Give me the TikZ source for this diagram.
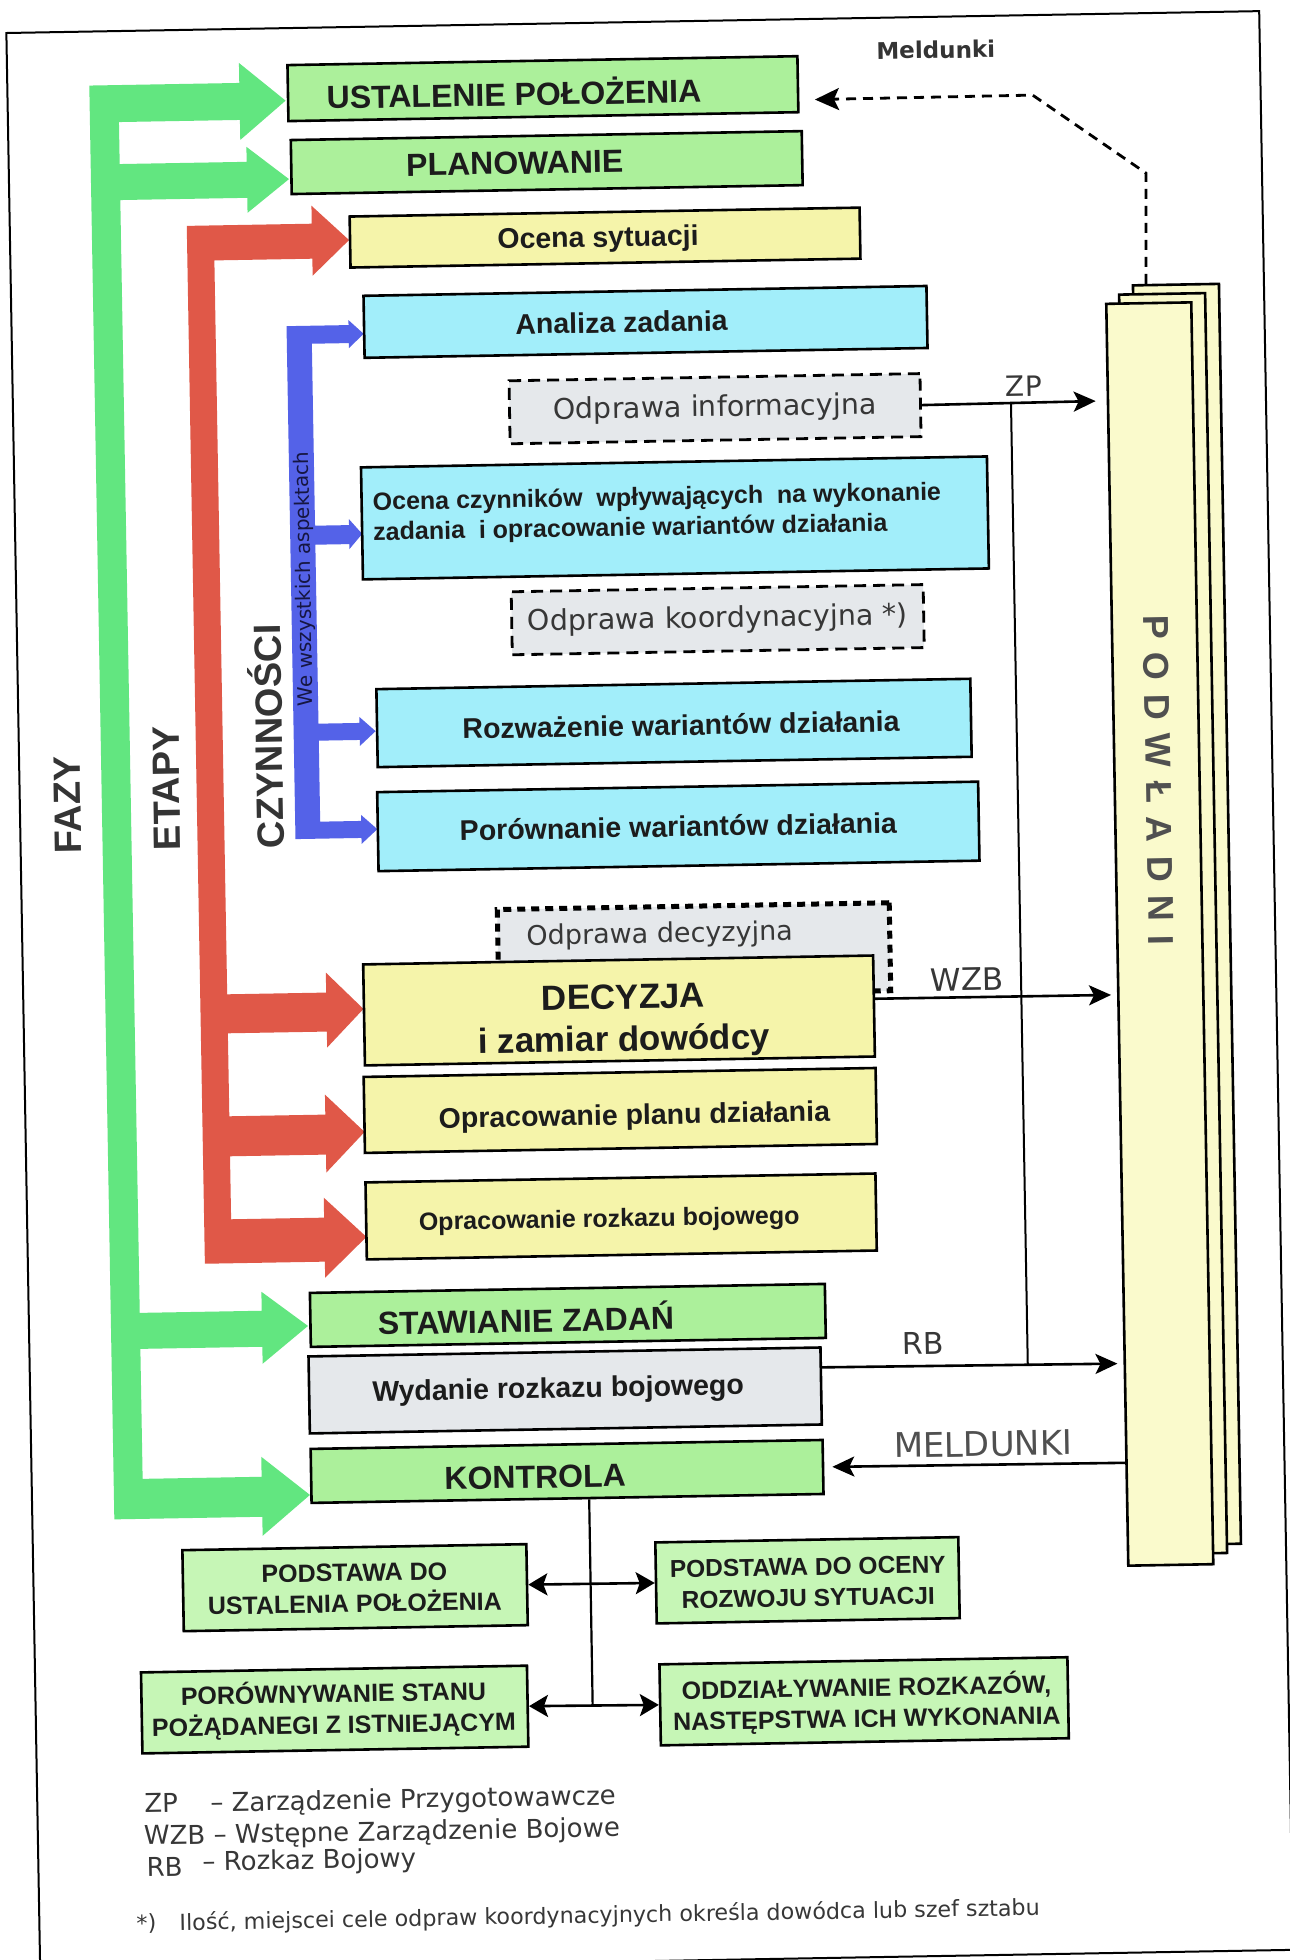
\documentclass[tikz,border=0pt]{standalone}
\usepackage{fontspec}
\setmainfont{Liberation Sans}
\newfontfamily\dejavu{DejaVu Sans}
\usetikzlibrary{arrows.meta,calc}

\definecolor{ink}{RGB}{28,28,28}
\definecolor{labgrey}{RGB}{52,52,52}
\definecolor{podgrey}{RGB}{80,80,80}
\definecolor{softink}{RGB}{55,55,55}
\definecolor{boxgreen}{RGB}{172,240,155}
\definecolor{boxgreenlt}{RGB}{198,246,182}
\definecolor{boxyellow}{RGB}{245,244,170}
\definecolor{boxcyan}{RGB}{162,238,250}
\definecolor{boxgrey}{RGB}{229,232,235}
\definecolor{pagefill}{RGB}{250,250,204}
\definecolor{arrgreen}{RGB}{98,230,128}
\definecolor{arrred}{RGB}{224,88,72}
\definecolor{arrblue}{RGB}{84,98,232}
\definecolor{aspink}{RGB}{22,22,66}

\newcommand{\setfsz}[2]{\fontsize{#1}{#2}\selectfont}

\tikzset{
  frameline/.style={line width=2pt, draw=black},
  sz/.style 2 args={minimum width=#1pt, minimum height=#2pt},
  panel/.style={draw=black, line width=2.6pt, rectangle, inner sep=0pt},
  gpanel/.style={panel, fill=boxgreen},
  glpanel/.style={panel, fill=boxgreenlt},
  ypanel/.style={panel, fill=boxyellow},
  cpanel/.style={panel, fill=boxcyan},
  spanel/.style={panel, fill=boxgrey},
  briefing/.style={panel, fill=boxgrey, line width=2.8pt, dash pattern=on 12pt off 7pt},
  dotbriefing/.style={panel, fill=boxgrey, line width=5pt, dash pattern=on 8pt off 6pt},
  sheet/.style={panel, fill=pagefill, minimum width=86pt, minimum height=1260pt},
  btext/.style={inner sep=0pt, text=ink, font=\bfseries\setfsz{#1}{#1}},
  rtext/.style={inner sep=0pt, text=softink, font=\dejavu\setfsz{#1}{#1}},
  sidelabel/.style={rotate=90, inner sep=0pt, text=labgrey, font=\bfseries\setfsz{38}{38}},
  conn/.style={line width=2.6pt, draw=black, -{Stealth[length=22pt, width=20pt, inset=5pt]}},
  bus/.style={line width=2pt, draw=black},
  twoway/.style={line width=2.6pt, draw=black,
    {Stealth[length=19pt, width=22pt, inset=4pt]}-{Stealth[length=19pt, width=22pt, inset=4pt]}},
  report/.style={line width=2.8pt, draw=black, dash pattern=on 10pt off 7pt,
    -{Stealth[length=24pt, width=22pt, inset=5pt]}},
}

\begin{document}
\begin{tikzpicture}[x=1pt,y=-1pt]
\useasboundingbox (0,0) rectangle (1290,1960);
\fill[white] (0,0) rectangle (1290,1960);
\begin{scope}[rotate around={1:(645,980)}, transform shape]

% outer frame
\draw[frameline] (23,22) -- (1276,22) -- (1276,1961) -- (23,1961) -- cycle;

% phases (green comb)
\fill[arrgreen] (105,76) -- (255,76) -- (255,56) -- (301,94.5) -- (255,133) -- (255,113)
  -- (134,113) -- (134,155) -- (261,155) -- (261,140) -- (303,173) -- (261,206) -- (261,191)
  -- (134,191) -- (134,1304) -- (256,1304) -- (256,1285) -- (302,1320) -- (256,1357) -- (256,1340)
  -- (134,1340) -- (134,1470) -- (253,1470) -- (253,1450) -- (301,1489) -- (253,1529) -- (253,1510)
  -- (105,1510) -- cycle;

% stages (red comb)
\fill[arrred] (200,218) -- (325,218) -- (325,200) -- (362,235) -- (325,270) -- (325,253)
  -- (227,253) -- (227,987) -- (326,987) -- (326,967) -- (363,1004) -- (326,1042) -- (326,1026)
  -- (227,1026) -- (227,1109) -- (323,1109) -- (323,1089) -- (362,1127) -- (323,1167) -- (323,1149)
  -- (227,1149) -- (227,1212) -- (320,1212) -- (320,1192) -- (362,1232) -- (320,1272) -- (320,1256)
  -- (200,1256) -- cycle;

% activities (blue comb)
\fill[arrblue] (298,320) -- (360,320) -- (360,315) -- (375,329) -- (360,343) -- (360,338)
  -- (323,338) -- (323,520) -- (357,520) -- (357,514) -- (370,529) -- (357,544) -- (357,539)
  -- (323,539) -- (323,718) -- (364,718) -- (364,712) -- (380,726.5) -- (364,741) -- (364,735)
  -- (323,735) -- (323,816) -- (364,816) -- (364,810) -- (380,824.5) -- (364,839) -- (364,833)
  -- (298,833) -- cycle;

\node[sidelabel] (fazy) at (71,795) {FAZY};
\node[sidelabel] (etapy) at (170,780) {ETAPY};
\node[sidelabel] (czyn) at (270,730) {CZYNNOŚCI};
\node[rotate=90, inner sep=0pt, text=aspink, font=\dejavu\setfsz{20}{20}] (asp) at (312,573) {We wszystkich aspektach};

% process boxes
\node[gpanel, sz={510}{56}] (ust) at (558.5,87) {};
\node[btext=32] (ust-t) at (529.5,90) {USTALENIE POŁOŻENIA};
\node[gpanel, sz={511}{54}] (plan) at (561,161) {};
\node[btext=32] (plan-t) at (529,161) {PLANOWANIE};
\node[ypanel, sz={510}{51}] (ocena) at (618,237) {};
\node[btext=28.5] (ocena-t) at (611,239) {Ocena sytuacji};
\node[cpanel, sz={563}{62}] (analiza) at (657,322) {};
\node[btext=28.5] (analiza-t) at (633,322) {Analiza zadania};
\node[briefing, sz={411}{63}] (oinfo) at (725,410) {};
\node[rtext=28.5] (oinfo-t) at (725,410) {Odprawa informacyjna};
\node[cpanel, sz={626}{112}] (czynn) at (683,518.5) {};
\node[btext=25, font=\bfseries\setfsz{25}{30}, anchor=west, align=left] (czynn-t) at (381,514)
  {Ocena czynników\ \ wpływających\ \ na wykonanie\\zadania\ \ i opracowanie wariantów działania};
\node[briefing, sz={412}{63}] (okoord) at (724,621) {};
\node[rtext=28.5] (okoord-t) at (724,621) {Odprawa koordynacyjna *)};
\node[cpanel, sz={594}{78}] (rozw) at (678.5,723.5) {};
\node[btext=28.5] (rozw-t) at (685.5,725.5) {Rozważenie wariantów działania};
\node[cpanel, sz={601}{79}] (porow) at (681,827) {};
\node[btext=28.5] (porow-t) at (681,827) {Porównanie wariantów działania};
\node[dotbriefing, sz={392}{88}] (odec) at (694.5,951) {};
\node[rtext=27] (odec-t) at (660.5,935.5) {Odprawa decyzyjna};
\node[ypanel, sz={510}{101}] (decyzja) at (618.5,1010) {};
\node[btext=35, font=\bfseries\setfsz{35}{42}, align=center] (decyzja-t) at (623,1021) {DECYZJA\\i zamiar dowódcy};
\node[ypanel, sz={512}{76}] (plandz) at (618,1110) {};
\node[btext=28.5] (plandz-t) at (632,1117) {Opracowanie planu działania};
\node[ypanel, sz={510}{77}] (rozkaz) at (617,1216) {};
\node[btext=25] (rozkaz-t) at (605,1220) {Opracowanie rozkazu bojowego};
\node[gpanel, sz={515}{54}] (staw) at (562,1314) {};
\node[btext=32] (staw-t) at (520,1316) {STAWIANIE ZADAŃ};
\node[spanel, sz={512}{77}] (wyd) at (558,1389) {};
\node[btext=28.5] (wyd-t) at (551,1389) {Wydanie rozkazu bojowego};
\node[gpanel, sz={512}{54}] (kontr) at (558.5,1470) {};
\node[btext=32] (kontr-t) at (526.5,1475) {KONTROLA};

% control outcomes
\node[glpanel, sz={344}{81}] (pust) at (344.5,1582.5) {};
\node[btext=25, font=\bfseries\setfsz{25}{31}, align=center] (pust-t) at (344,1583) {PODSTAWA DO\\USTALENIA POŁOŻENIA};
\node[glpanel, sz={303}{81}] (poce) at (797,1583) {};
\node[btext=25, font=\bfseries\setfsz{24.5}{31}, align=center] (poce-t) at (797.5,1585) {PODSTAWA DO OCENY\\ROZWOJU SYTUACJI};
\node[glpanel, sz={386}{81}] (pstan) at (322,1704) {};
\node[btext=25, font=\bfseries\setfsz{25}{31}, align=center] (pstan-t) at (321,1704) {PORÓWNYWANIE STANU\\POŻĄDANEGI Z ISTNIEJĄCYM};
\node[glpanel, sz={408}{81}] (oddz) at (851.5,1705) {};
\node[btext=25, font=\bfseries\setfsz{25}{31}, align=center] (oddz-t) at (854,1707) {ODDZIAŁYWANIE ROZKAZÓW,\\NASTĘPSTWA ICH WYKONANIA};

% subordinates (stack of sheets)
\node[sheet] (p3) at (1188,924) {};
\node[sheet] (p2) at (1174,933) {};
\node[sheet, minimum width=85pt, minimum height=1262pt] (p1) at (1160.5,943) {};
\node[rotate=-90, inner sep=0pt, text=podgrey, font=\bfseries\setfsz{36}{36}] (podw) at (1162,789)
  {P\hspace{13.5pt}O\hspace{13.5pt}D\hspace{13.5pt}W\hspace{13.5pt}Ł\hspace{13.5pt}A\hspace{13.5pt}D\hspace{13.5pt}N\hspace{13.5pt}I};

% orders to subordinates
\coordinate (zpj) at (1021,410);
\coordinate (rbj) at (1021,1371);
\draw[conn, shorten >=11pt] (oinfo.east) -- ($(p1.north west)!0.0777!(p1.south west)$);
\draw[bus] (zpj) -- (rbj);
\draw[conn, shorten >=6pt] ($(decyzja.north east)!0.43!(decyzja.south east)$) -- ($(p1.north west)!0.5475!(p1.south west)$);
\draw[conn, shorten >=6pt] ($(wyd.north east)!0.266!(wyd.south east)$) -- ($(p1.north west)!0.8391!(p1.south west)$);
\draw[conn, shorten >=8pt] ($(p1.north west)!0.9176!(p1.south west)$) -- (kontr.east);
\node[rtext=28] (zp-l) at (1034,393) {ZP};
\node[rtext=31] (wzb-l) at (967,985) {WZB};
\node[rtext=30] (rb-l) at (917,1348) {RB};
\node[rtext=34, text=podgrey] (meld-l) at (975,1450) {MELDUNKI};

% reports back from subordinates
\coordinate (mA) at (1160,182);
\coordinate (mB) at (1048,102);
\draw[report, shorten >=15.5pt] ($(p3.north west)!0.163!(p3.north east)$) -- (mA) -- (mB)
  -- ($(ust.north east)!0.768!(ust.south east)$);
\node[inner sep=0pt, text=labgrey, font=\dejavu\bfseries\setfsz{23}{23}] (meld-top) at (952,55) {Meldunki};

% control links
\coordinate (kbot) at (580,1705);
\draw[bus, line width=2.2pt] ($(kontr.south west)!0.542!(kontr.south east)$) -- (kbot);
\draw[twoway] (pust.east) -- (poce.west);
\draw[twoway] (pstan.east) -- (oddz.west);

% legend
\node[rtext=26, anchor=base west] (lg-zp) at (130,1804) {ZP};
\node[rtext=26, anchor=base west] (lg-zp-d) at (196,1804) {– Zarządzenie Przygotowawcze};
\node[rtext=26, anchor=base west] (lg-wzb) at (129,1836) {WZB – Wstępne Zarządzenie Bojowe};
\node[rtext=26, anchor=base west] (lg-rb) at (131,1868) {RB};
\node[rtext=26, anchor=base west] (lg-rb-d) at (187,1863) {– Rozkaz Bojowy};
\node[rtext=22.2, anchor=base west] (fn-mark) at (120,1922) {*)};
\node[rtext=22.2, anchor=base west] (fn) at (163,1922) {Ilość, miejscei cele odpraw koordynacyjnych określa dowódca lub szef sztabu};

\end{scope}
\end{tikzpicture}
\end{document}
